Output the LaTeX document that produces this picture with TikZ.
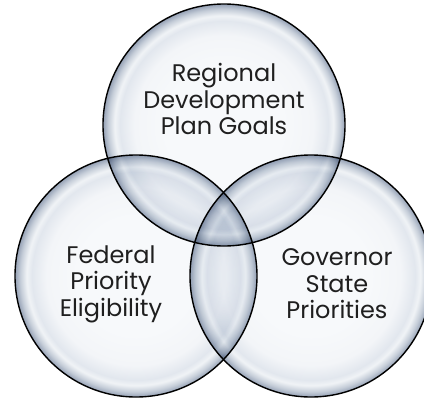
\documentclass[tikz,border=0pt]{standalone}
\usepackage{fontspec}
\setmainfont{Poppins}

\definecolor{bubA}{HTML}{F7F9FB}
\definecolor{bubB}{HTML}{F3F5F8}
\definecolor{bubC}{HTML}{E2E7EE}
\definecolor{bubD}{HTML}{F0F3F6}
\definecolor{bubE}{HTML}{C6CED9}
\definecolor{bubF}{HTML}{95A1B5}
\pgfdeclareradialshading{bubble}{\pgfpoint{0bp}{0bp}}{color(0bp)=(bubA); color(12bp)=(bubA); color(18.5bp)=(bubB); color(21.5bp)=(bubC); color(22.6bp)=(bubD); color(23.9bp)=(bubE); color(25bp)=(bubF); color(50bp)=(bubF)}

\tikzset{
	vennball/.style={circle, draw=black, line width=1.4pt, minimum size=242pt, inner sep=0pt, shading=bubble},
	venntext/.style={align=center, font=\fontsize{24}{26.5}\selectfont, text=black!88}
}

\begin{document}
\begin{tikzpicture}[x=1pt,y=-1pt]
	\useasboundingbox (0,0) rectangle (424,400);
	\begin{scope}[blend mode=multiply]
		\node[vennball] (regional) at (224,125) {};
		\node[vennball] (federalball) at (136,276) {};
		\node[vennball] (governorball) at (311,276) {};
	\end{scope}
	\node[venntext] (goals) at (224,99) {Regional\\Development\\Plan Goals};
	\node[venntext] (federal) at (111,284) {Federal\\Priority\\Eligibility};
	\node[venntext] (governor) at (337,284) {Governor\\State\\Priorities};
\end{tikzpicture}
\end{document}
